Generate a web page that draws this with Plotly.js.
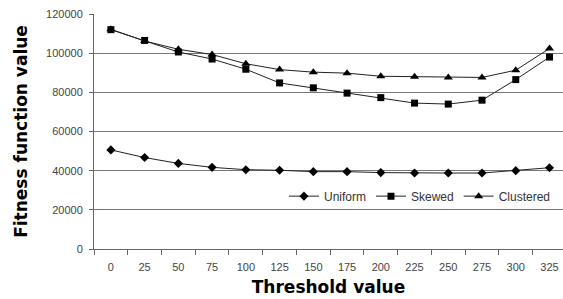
<!DOCTYPE html>
<html>
<head>
<meta charset="utf-8">
<script src="https://cdn.plot.ly/plotly-3.0.1.min.js"></script>
<style>html,body{margin:0;padding:0;background:#fff;}#chart{width:563px;height:299px;}</style>
</head>
<body>
<div id="chart"></div>
<script>
const thresholds = ["0","25","50","75","100","125","150","175","200","225","250","275","300","325"];
const uniform   = [50600,46700,43700,41700,40500,40200,39500,39500,39000,38800,38800,38800,40000,41500];
const skewed    = [112000,106500,100600,97000,91800,84800,82300,79600,77300,74500,74000,76000,86500,98000];
const clustered = [112200,106200,102000,99300,94600,91600,90300,89800,88200,88000,87600,87600,91300,102400];

const lineColor = '#222';
const mk = (name, y, sym, size) => ({
  type: 'scatter', mode: 'lines+markers', name: name,
  x: thresholds, y: y,
  line: {color: lineColor, width: 1},
  marker: {symbol: sym, size: size, color: '#000'}
});

const data = [
  mk('Uniform', uniform, 'diamond', 7),
  mk('Skewed', skewed, 'square', 7),
  mk('Clustered', clustered, 'triangle-up', 8)
];

const layout = {
  width: 563, height: 299,
  margin: {l: 94, r: 0, t: 14, b: 50, pad: 0},
  paper_bgcolor: '#fff', plot_bgcolor: '#fff',
  font: {family: 'Liberation Sans, Arial, sans-serif', size: 11, color: '#444'},
  showlegend: true,
  legend: {
    orientation: 'h', x: 0.985, xanchor: 'right', y: 0.225, yanchor: 'middle',
    bgcolor: 'rgba(255,255,255,0)', font: {size: 12, color: '#333'},
    itemwidth: 30, tracegroupgap: 0
  },
  xaxis: {
    type: 'category', range: [-0.5, 13.4],
    tickson: 'boundaries', ticks: 'outside', ticklen: 5, tickcolor: '#666',
    ticklabelstandoff: 8,
    showline: true, linecolor: '#666', linewidth: 1,
    showgrid: false, zeroline: false,
    tickfont: {size: 11, color: '#444'},
    title: {text: 'Threshold value', font: {family: 'DejaVu Sans, sans-serif', size: 17, color: '#000', weight: 'bold'}, standoff: 8}
  },
  yaxis: {
    range: [0, 120000], dtick: 20000, tickformat: 'd',
    ticks: 'outside', ticklen: 4, tickcolor: '#666',
    ticklabelstandoff: 4,
    showline: true, linecolor: '#666', linewidth: 1,
    showgrid: true, gridcolor: '#777', gridwidth: 1, zeroline: false,
    tickfont: {size: 11, color: '#444'},
    title: {text: 'Fitness function value', font: {family: 'DejaVu Sans, sans-serif', size: 17, color: '#000', weight: 'bold'}, standoff: 14}
  }
};

Plotly.newPlot('chart', data, layout, {displayModeBar: false, staticPlot: true});
</script>
</body>
</html>
